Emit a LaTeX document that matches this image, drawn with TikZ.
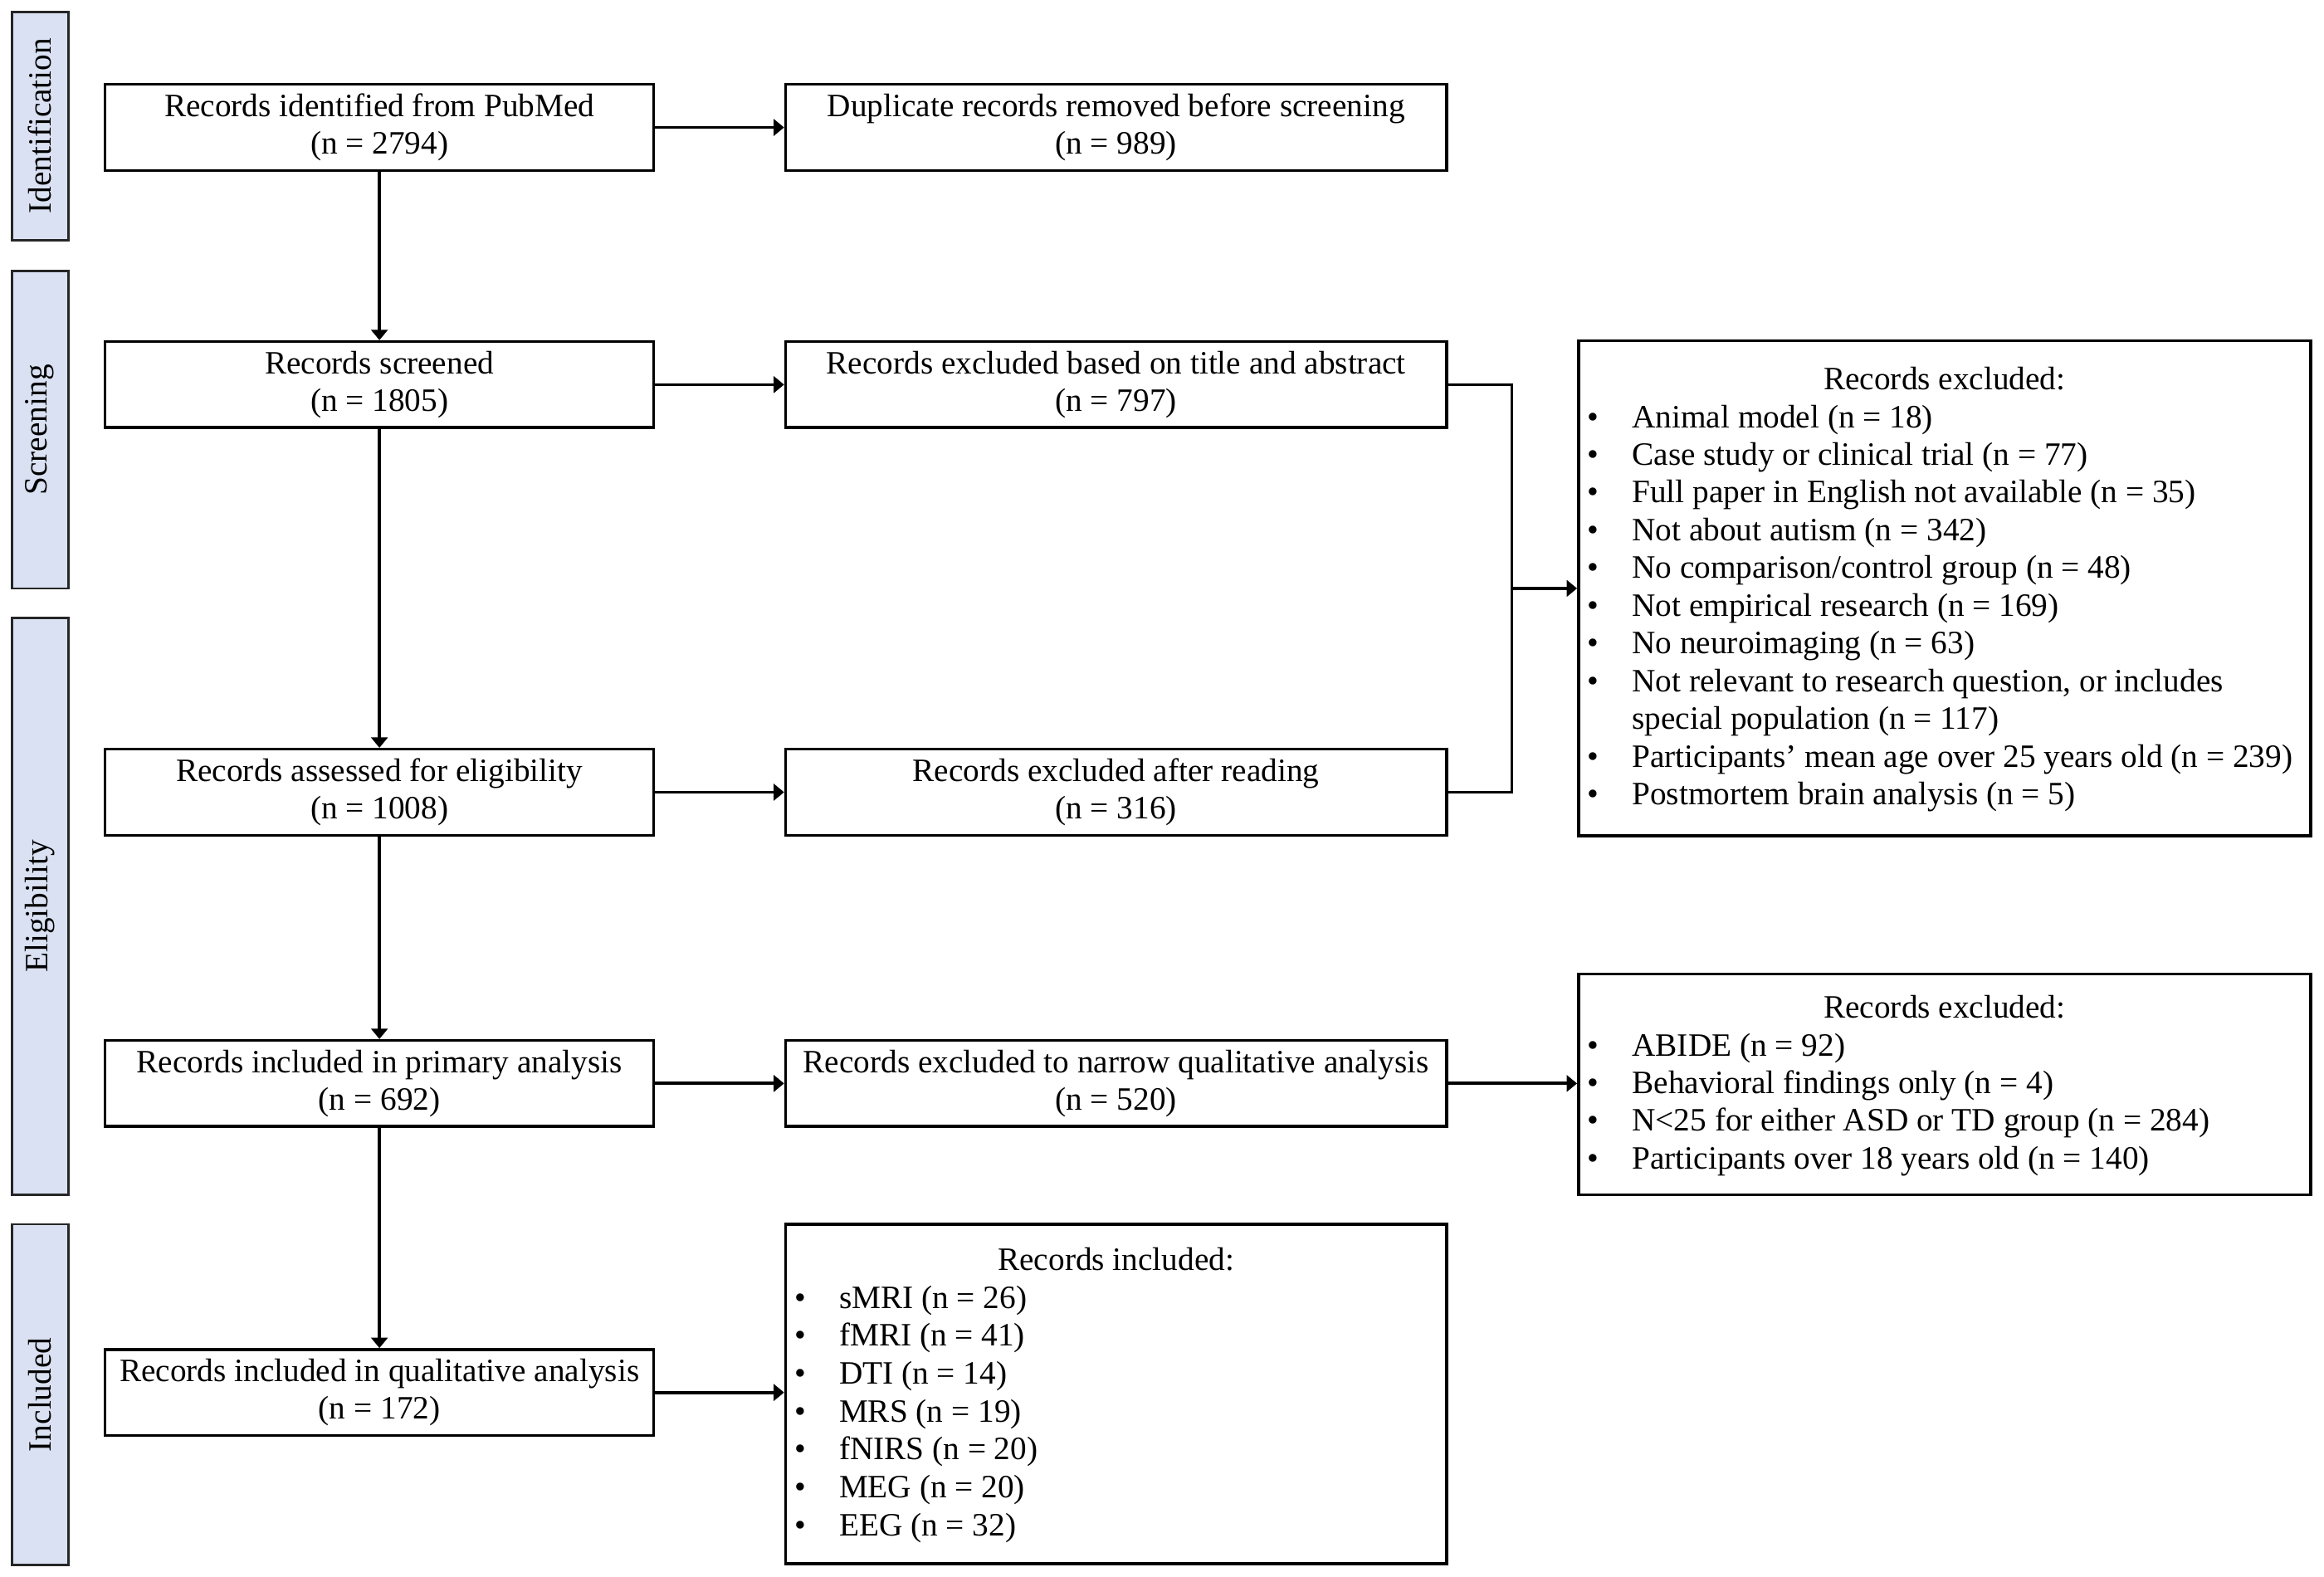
\documentclass[tikz,border=0pt]{standalone}
\usepackage{fontspec}
\setmainfont{Liberation Serif}
\usetikzlibrary{arrows.meta}
\definecolor{bandblue}{RGB}{218,225,242}
\newcommand\itembul{\makebox[30pt][l]{\textbullet}}
\newcommand\itemcont{\hspace*{30pt}}
\begin{document}
\begin{tikzpicture}[x=1pt,y=-1pt,
  font=\fontsize{22}{25.5}\selectfont,
  box/.style={draw=black, line width=1.9pt, align=center, inner sep=0pt},
  lbox/.style={box, minimum width=370pt, minimum height=58pt},
  mbox/.style={box, minimum width=446pt, minimum height=58pt},
  band/.style={draw=black!85, fill=bandblue, line width=1.6pt, rotate=90, inner sep=0pt, minimum height=38pt},
  conn/.style={line width=2.1pt},
  arr/.style={conn, -{Triangle[length=7pt,width=11pt]}},
  itm/.style={anchor=base west, inner sep=0pt},
  ttl/.style={anchor=base, inner sep=0pt}]
\useasboundingbox[fill=white] (0,0) rectangle (1568,1064);

% phase bands
\node[band, minimum width=154pt] (bid) at (27,85) {Identification};
\node[band, minimum width=214pt] (bsc) at (27,290) {Screening};
\node[band, minimum width=389pt] (bel) at (27,611.5) {Eligibility};
\node[band, minimum width=230pt] (bin) at (27,941) {Included};

% left column
\node[lbox] (b1) at (256,86) {Records identified from PubMed\\(n = 2794)};
\node[lbox] (b2) at (256,259.5) {Records screened\\(n = 1805)};
\node[lbox] (b3) at (256,534.5) {Records assessed for eligibility\\(n = 1008)};
\node[lbox] (b4) at (256,731) {Records included in primary analysis\\(n = 692)};
\node[lbox] (b5) at (256,939.5) {Records included in qualitative analysis\\(n = 172)};

% middle column
\node[mbox] (m1) at (753,86) {Duplicate records removed before screening\\(n = 989)};
\node[mbox] (m2) at (753,259.5) {Records excluded based on title and abstract\\(n = 797)};
\node[mbox] (m3) at (753,534.5) {Records excluded after reading\\(n = 316)};
\node[mbox] (m4) at (753,731) {Records excluded to narrow qualitative analysis\\(n = 520)};
\node[box, minimum width=446pt, minimum height=229pt] (m5) at (753,940.5) {};

% right column
\node[box, minimum width=494pt, minimum height=334pt] (r1) at (1312,397) {};
\node[box, minimum width=494pt, minimum height=149pt] (r2) at (1312,731.5) {};

% list contents
\node[ttl] (r1t) at (1312,263) {Records excluded:};
\foreach \t [count=\i] in {
  {\itembul Animal model (n = 18)},
  {\itembul Case study or clinical trial (n = 77)},
  {\itembul Full paper in English not available (n = 35)},
  {\itembul Not about autism (n = 342)},
  {\itembul No comparison/control group (n = 48)},
  {\itembul Not empirical research (n = 169)},
  {\itembul No neuroimaging (n = 63)},
  {\itembul Not relevant to research question, or includes},
  {\itemcont special population (n = 117)},
  {\itembul Participants’ mean age over 25 years old (n = 239)},
  {\itembul Postmortem brain analysis (n = 5)}}
  \node[itm] (r1i\i) at (1071,{263+25.45*\i}) {\t};

\node[ttl] (r2t) at (1312,687) {Records excluded:};
\foreach \t [count=\i] in {
  {\itembul ABIDE (n = 92)},
  {\itembul Behavioral findings only (n = 4)},
  {\itembul N<25 for either ASD or TD group (n = 284)},
  {\itembul Participants over 18 years old (n = 140)}}
  \node[itm] (r2i\i) at (1071,{687+25.4*\i}) {\t};

\node[ttl] (m5t) at (753,857) {Records included:};
\foreach \t [count=\i] in {
  {\itembul sMRI (n = 26)},
  {\itembul fMRI (n = 41)},
  {\itembul DTI (n = 14)},
  {\itembul MRS (n = 19)},
  {\itembul fNIRS (n = 20)},
  {\itembul MEG (n = 20)},
  {\itembul EEG (n = 32)}}
  \node[itm] (m5i\i) at (536,{857+25.6*\i}) {\t};

% connectors
\draw[arr] (b1) -- (b2);
\draw[arr] (b2) -- (b3);
\draw[arr] (b3) -- (b4);
\draw[arr] (b4) -- (b5);
\draw[arr] (b1) -- (m1);
\draw[arr] (b2) -- (m2);
\draw[arr] (b3) -- (m3);
\draw[arr] (b4) -- (m4);
\draw[arr] (b5.east) -- (b5.east -| m5.west);
\draw[arr] (m4.east) -- (m4.east -| r2.west);
\coordinate (jn) at (1020,397);
\draw[conn] (m2.east) -| (jn);
\draw[conn] (m3.east) -| (jn);
\draw[arr] (jn) -- (r1.west);
\end{tikzpicture}
\end{document}
